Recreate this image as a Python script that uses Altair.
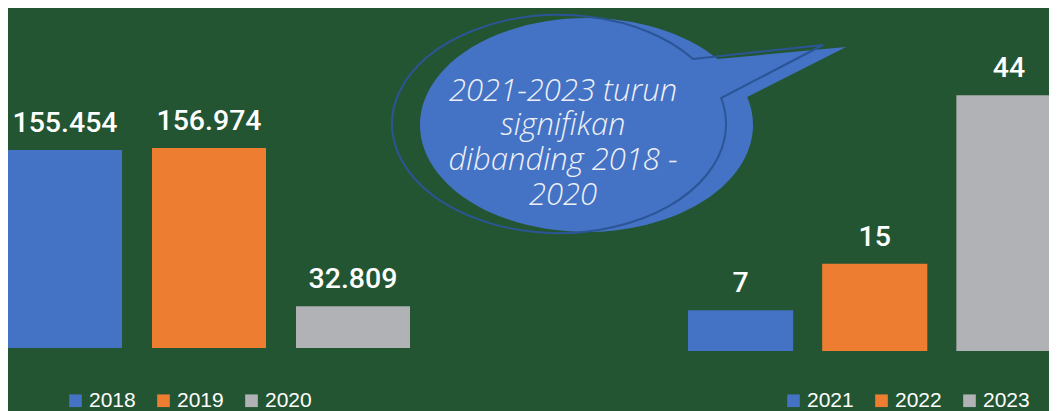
import math
import altair as alt
import pandas as pd

# ---- data ----
years_a = ["2018", "2019", "2020"]
values_a = [155454, 156974, 32809]
years_b = ["2021", "2022", "2023"]
values_b = [7, 15, 44]
bar_colors = ["#4472C4", "#ED7D31", "#B1B2B5"]
bubble_lines = ["2021-2023 turun", "signifikan", "dibanding 2018 -", "2020"]

BG = "#235533"
BUBBLE_FILL = "#4472C4"
BUBBLE_LINE = "#2B5595"


def callout_path(rx, ry, y1, y2, tip):
    """Ellipse with a wedge tail, in pixel units around its centre."""
    x1 = rx * math.sqrt(1 - (y1 / ry) ** 2)
    x2 = rx * math.sqrt(1 - (y2 / ry) ** 2)
    return (f"M{x1:.2f},{y1:.2f} L{tip[0]:.2f},{tip[1]:.2f} L{x2:.2f},{y2:.2f} "
            f"A{rx},{ry} 0 1 1 {x1:.2f},{y1:.2f} Z")


fill_path = callout_path(166.5, 107, -66, -28, (259.5, -78))
line_path = callout_path(167, 109, -65, -26, (264, -79))


def legend(lx, ly):
    return alt.Legend(
        title=None, orient="none", legendX=lx, legendY=ly, direction="horizontal",
        symbolType="square", symbolSize=160, symbolStrokeWidth=0, symbolOpacity=1,
        labelFont="Liberation Sans", labelFontSize=21, labelColor="#FFFFFF",
        labelOffset=3, columnPadding=17, padding=0,
    )


def panel(years, values, ymax, pad_inner, lg, rng=None):
    df = pd.DataFrame({"year": years, "value": values})
    base = alt.Chart(df).transform_calculate(
        label="replace(format(datum.value, ','), ',', '.')"
    )
    sc = dict(paddingInner=pad_inner, paddingOuter=0)
    if rng is not None:
        sc["range"] = rng
    x = alt.X("year:N", axis=None, sort=years, scale=alt.Scale(**sc))
    y = alt.Y("value:Q", axis=None, scale=alt.Scale(domain=[0, ymax], nice=False))
    bars = base.mark_bar(clip=True).encode(
        x=x, y=y,
        color=alt.Color("year:N", sort=years,
                        scale=alt.Scale(domain=years, range=bar_colors), legend=lg),
    )
    labels = base.mark_text(
        dy=-18, baseline="alphabetic", align="center", font="Roboto",
        fontSize=28.5, fontWeight=500, color="#FFFFFF",
    ).encode(x=x, y=y, text="label:N")
    return bars, labels


bars_a, labels_a = panel(years_a, values_a, 267000, 30 / 144, legend(57, 382))
bars_b, labels_b = panel(years_b, values_b, 59, 0.2164, legend(95, 382), rng=[0, 373.5])

one = pd.DataFrame({"k": [0]})
bubble_fill = alt.Chart(one).mark_point(
    shape=fill_path, size=4, filled=True, color=BUBBLE_FILL, opacity=1, strokeWidth=0
).encode(x=alt.value(578.5), y=alt.value(117))
bubble_line = alt.Chart(one).mark_point(
    shape=line_path, size=4, filled=False, color=BUBBLE_LINE, opacity=1,
    strokeWidth=2, fillOpacity=0
).encode(x=alt.value(551), y=alt.value(116))
bubble_text = alt.Chart(one).mark_text(
    text=bubble_lines, lineHeight=34.7, font="Open Sans", fontStyle="italic",
    fontWeight=300, fontSize=31, color="#EEF0F6", align="center", baseline="alphabetic"
).encode(x=alt.value(555), y=alt.value(92.7))

left = alt.layer(bars_a, labels_a, bubble_fill, bubble_line, bubble_text).properties(
    width=402, height=340
)
right = alt.layer(bars_b, labels_b).properties(width=361, height=343)

chart = (
    alt.hconcat(left, right, spacing=278, bounds="flush")
    .resolve_scale(color="independent", x="independent", y="independent")
    .resolve_legend(color="independent")
    .properties(padding=0, background=BG)
    .configure_view(strokeWidth=0)
)

chart.save("out.html", embed_options={"renderer": "svg", "actions": False})
